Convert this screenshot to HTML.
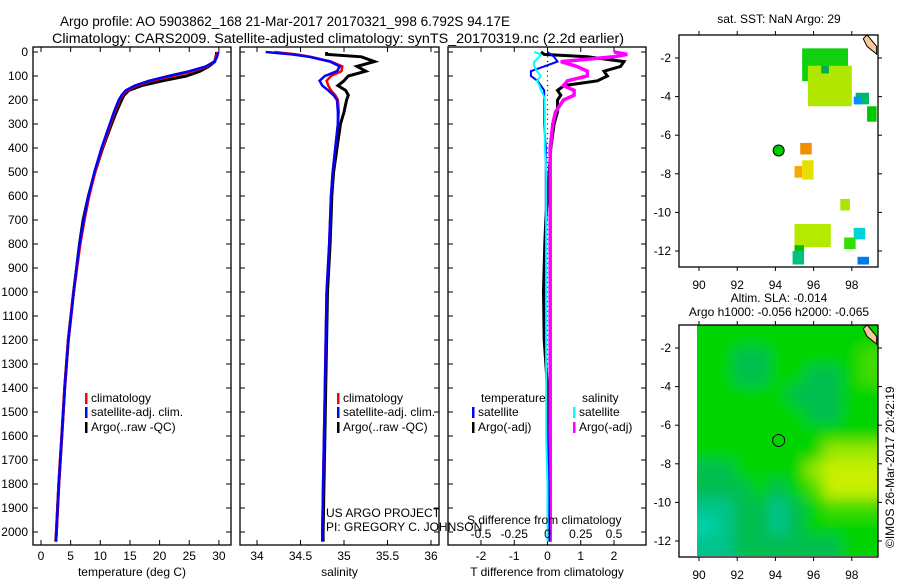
<!DOCTYPE html>
<html><head><meta charset="utf-8"><style>
html,body{margin:0;padding:0;background:#fff;}
svg{display:block;font-family:"Liberation Sans",sans-serif;}
text{font-size:12px;fill:#000;}
</style></head><body>
<svg id="chart" width="900" height="580" viewBox="0 0 900 580" xmlns="http://www.w3.org/2000/svg">
<defs>
<filter id="blur" x="-5%" y="-5%" width="110%" height="110%"><feGaussianBlur stdDeviation="7"/></filter>
<clipPath id="slaclip"><rect x="697" y="325" width="181" height="231"/></clipPath>
</defs>
<text x="60" y="26" textLength="450" lengthAdjust="spacingAndGlyphs" style="font-size:14px">Argo profile: AO 5903862_168 21-Mar-2017 20170321_998 6.792S 94.17E</text>
<text x="52" y="43" textLength="572" lengthAdjust="spacingAndGlyphs" style="font-size:14px">Climatology: CARS2009. Satellite-adjusted climatology: synTS_20170319.nc (2.2d earlier)</text>
<g id="sla" clip-path="url(#slaclip)"><g id="slablur" filter="url(#blur)"></g></g>
<g id="g"></g>
</svg>
<script>
// ---- data ----
const depthTicks=[0,100,200,300,400,500,600,700,800,900,1000,1100,1200,1300,1400,1500,1600,1700,1800,1900,2000];
const tempTicks=[0,5,10,15,20,25,30];
const salTicks=[34,34.5,35,35.5,36];
const tdTicks=[-2,-1,0,1,2];
const sdTicks=[-0.5,-0.25,0,0.25,0.5];
const profDepth=[0,10,20,40,60,80,100,120,140,160,180,200,250,300,400,500,600,700,800,1000,1200,1400,1600,1800,2000,2040];
const tempClim=[29.8,29.7,29.6,29.2,28.0,25.5,22.0,18.5,16.0,14.4,13.7,13.2,12.4,11.7,10.3,9.1,8.1,7.3,6.6,5.5,4.6,4.0,3.5,3.0,2.6,2.5];
const tempSat=[29.9,29.8,29.7,29.3,27.8,25.0,21.5,18.2,15.8,14.3,13.6,13.1,12.3,11.6,10.2,9.0,8.0,7.2,6.5,5.5,4.6,4.0,3.5,3.0,2.6,2.5];
const tempArgo=[29.6,29.6,29.5,29.3,28.3,26.8,24.5,20.5,17.0,14.8,14.0,13.6,12.7,11.9,10.4,9.1,8.0,7.1,6.5,5.5,4.6,4.0,3.5,3.0,2.6,2.5];
const salClim=[34.2,34.45,34.62,34.85,34.98,34.97,34.85,34.8,34.82,34.85,34.9,34.93,34.94,34.93,34.9,34.87,34.85,34.84,34.83,34.8,34.79,34.78,34.77,34.76,34.75,34.75];
const salSat=[34.1,34.4,34.6,34.84,34.95,34.92,34.78,34.72,34.75,34.82,34.88,34.92,34.93,34.93,34.9,34.87,34.85,34.84,34.83,34.8,34.79,34.78,34.77,34.76,34.75,34.75];
const salArgo=[34.8,34.8,35.2,35.35,35.15,35.25,35.05,35.0,34.93,35.02,35.05,35.03,35.0,34.96,34.92,34.88,34.86,34.85,34.84,34.81,34.8,34.79,34.78,34.77,34.76,34.76];
const tdSat=[0.0,0.1,0.2,0.3,-0.1,-0.5,-0.5,-0.3,-0.2,-0.1,-0.1,-0.1,-0.1,-0.1,-0.05,-0.05,-0.05,-0.05,-0.05,-0.05,-0.05,-0.02,0,0.03,0.05,0.05];
const tdArgo=[-0.2,-0.1,1.2,2.3,2.2,1.7,1.8,1.5,0.5,0.3,0.4,0.3,0.3,0.2,0.1,0.05,0.0,-0.05,-0.08,-0.12,-0.1,0,0.08,0.08,0.08,0.08];
const sdSat=[-0.1,-0.05,-0.06,-0.1,-0.1,-0.08,-0.05,-0.08,-0.06,-0.05,-0.03,-0.02,-0.02,-0.02,-0.02,-0.01,-0.01,-0.01,-0.01,-0.01,-0.01,-0.01,-0.01,0,0,0];
const sdArgo=[0.5,0.6,0.5,0.1,0.22,0.3,0.3,0.15,0.12,0.2,0.2,0.12,0.06,0.04,0.02,0.02,0.02,0.02,0.02,0.02,0.02,0.02,0.02,0.02,0.02,0.02];
const lonTicks=[90,92,94,96,98];
const latTicks=[-2,-4,-6,-8,-10,-12];
const sstPatches=[[95.4,-1.5,97.8,-3.2,"#10d010"],[95.7,-2.4,98.0,-4.5,"#b0e600"],[96.4,-2.4,96.8,-2.8,"#00b050"],[98.2,-3.8,98.9,-4.4,"#00b868"],[98.1,-4.0,98.5,-4.4,"#0090ff"],[98.8,-4.5,99.3,-5.3,"#00c800"],[95.3,-6.4,95.9,-7.0,"#f09000"],[95.0,-7.6,95.4,-8.2,"#f8a800"],[95.4,-7.3,96.0,-8.3,"#e6e000"],[97.4,-9.3,97.9,-9.9,"#a8e600"],[95.0,-10.6,96.9,-11.8,"#b4ea00"],[98.1,-10.8,98.7,-11.4,"#00d4d4"],[97.6,-11.3,98.2,-11.9,"#30e000"],[95.0,-11.7,95.5,-12.1,"#00c000"],[94.9,-12.0,95.5,-12.7,"#00c088"],[98.3,-12.3,98.9,-12.7,"#0078f0"]];
const slaGrid=[[5,5,5,5,5,5,5,5,5,5],[5,5,4,4,5,5,5,5,5,6],[5,5,4,4,5,5,4,4,5,6],[5,5,5,5,5,4,4,4,5,5],[5,5,5,5,5,5,4,4,5,5],[5,5,5,5,5,5,5,5,5,5],[5,5,5,5,5,5,5,7,7,7],[4,4,5,5,5,5,7,8,8,8],[4,4,4,5,4,5,6,8,8,8],[3,3,4,4,3,4,5,6,6,6],[2,3,4,4,3,4,5,5,5,5],[3,3,4,4,4,4,4,4,5,5]];
const slaColors=["#00d2aa","#00d2aa","#00d2aa","#00c48a","#00be50","#00d400","#40dc00","#96e800","#c8f000"];
const argoLon=94.17, argoLat=-6.79;
// ---- helpers ----
const NS="http://www.w3.org/2000/svg", G=document.getElementById('g'), SB=document.getElementById('slablur');
function el(t,a,txt,par){const e=document.createElementNS(NS,t);for(const k in a)e.setAttribute(k,a[k]);if(txt!==undefined&&txt!==null)e.textContent=txt;(par||G).appendChild(e);return e;}
const top0=52, bot=545; const yD=d=>top0+d*0.24;
function panel(name,x0,x1,xs,ticks,fmt,title,series){
  const r=el('rect',{x:x0,y:47,width:x1-x0,height:bot-47,fill:'none',stroke:'#000','stroke-width':1.3});
  
  ticks.forEach(v=>{const x=xs(v);
    const t=el('line',{x1:x,x2:x,y1:bot,y2:bot-5,stroke:'#000'});
    el('line',{x1:x,x2:x,y1:47,y2:52,stroke:'#000'});
    const l=el('text',{x:x,y:560,'text-anchor':'middle'},fmt(v));});
  depthTicks.forEach(d=>{el('line',{x1:x0,x2:x0+5,y1:yD(d),y2:yD(d),stroke:'#000'});el('line',{x1:x1,x2:x1-5,y1:yD(d),y2:yD(d),stroke:'#000'});});
  const tt=el('text',{x:(x0+x1)/2,y:576,'text-anchor':'middle'},title);
  series.forEach(s=>{const p=el('polyline',{points:profDepth.map((d,i)=>xs(s.v[i]).toFixed(1)+','+yD(d).toFixed(1)).join(' '),fill:'none',stroke:s.c,'stroke-width':s.w});
    });
}
depthTicks.forEach(d=>{const t=el('text',{x:28,y:yD(d)+4,'text-anchor':'end'},d);});
const xT=v=>41+v*5.93;
panel('temperature-panel',33,231,xT,tempTicks,v=>v,'temperature (deg C)',[{v:tempArgo,c:'#000',w:3,n:'temp-argo-line'},{v:tempClim,c:'#f00',w:3,n:'temp-clim-line'},{v:tempSat,c:'#00f',w:2.5,n:'temp-sat-line'}]);
const xS=v=>257+(v-34)*87;
panel('salinity-panel',240,439,xS,salTicks,v=>v,'salinity',[{v:salArgo,c:'#000',w:3,n:'sal-argo-line'},{v:salClim,c:'#f00',w:2.5,n:'sal-clim-line'},{v:salSat,c:'#00f',w:2.5,n:'sal-sat-line'}]);
const xTD=v=>547.5+v*33.25, xSD=v=>547.5+v*133;
panel('difference-panel',448,646,xTD,tdTicks,v=>v,'T difference from climatology',[]);
for(let d=0;d<=2000;d+=20){el('circle',{cx:547.5,cy:yD(d),r:0.6,fill:'#000'});}
[[tdArgo,xTD,'#000',3,'tdiff-argo-line'],[sdArgo,xSD,'#f0f',3.5,'sdiff-argo-line'],[tdSat,xTD,'#00f',2,'tdiff-sat-line'],[sdSat,xSD,'#0ff',2,'sdiff-sat-line']].forEach(a=>{
  const p=el('polyline',{points:profDepth.map((d,i)=>a[1](a[0][i]).toFixed(1)+','+yD(d).toFixed(1)).join(' '),fill:'none',stroke:a[2],'stroke-width':a[3]});
  });
sdTicks.forEach(v=>{const l=el('text',{x:xSD(v),y:538,'text-anchor':'middle'},v);});
let st=el('text',{x:467,y:524},'S difference from climatology');
// legends
function leg(x,y,c,t,name){el('rect',{x:x,y:y-9,width:2.5,height:11,fill:c});const e=el('text',{x:x+6,y:y},t);}
[[85,'temp'],[337,'sal']].forEach(([x,n])=>{leg(x,402,'#f00','climatology',n+'-legend-climatology');leg(x,416,'#00f','satellite-adj. clim.',n+'-legend-satellite');leg(x,431,'#000','Argo(..raw -QC)',n+'-legend-argo');});
let lt=el('text',{x:481,y:402},'temperature');
let ls=el('text',{x:582,y:402},'salinity');
leg(472,416,'#00f','satellite','legend-t-satellite');leg(472,431,'#000','Argo(-adj)','legend-t-argo');
leg(573,416,'#0ff','satellite','legend-s-satellite');leg(573,431,'#f0f','Argo(-adj)','legend-s-argo');
let c1=el('text',{x:326,y:517},'US ARGO PROJECT');
let c2=el('text',{x:326,y:531},'PI: GREGORY C. JOHNSON');
// maps
function map(name,yTop){
  const lx=v=>699+(v-90)*19.1, ly=v=>(yTop+23)+(-2-v)*19.3;
  return {lx,ly,frame(){
    const r=el('rect',{x:679,y:yTop,width:199,height:232,fill:'none',stroke:'#000','stroke-width':1.3});
    lonTicks.forEach(v=>{el('line',{x1:lx(v),x2:lx(v),y1:yTop+232,y2:yTop+236,stroke:'#000'});el('line',{x1:lx(v),x2:lx(v),y1:yTop,y2:yTop-4,stroke:'#000'});
      const t=el('text',{x:lx(v),y:yTop+254,'text-anchor':'middle'},v);});
    latTicks.forEach(v=>{el('line',{x1:679,x2:675,y1:ly(v),y2:ly(v),stroke:'#000'});el('line',{x1:878,x2:882,y1:ly(v),y2:ly(v),stroke:'#000'});
      const t=el('text',{x:671,y:ly(v)+4,'text-anchor':'end'},v);});
    const ip=el('polygon',{points:[[98.8,-0.8],[99.3,-1.4],[99.3,-1.8],[98.8,-1.4],[98.6,-1.0]].map(p=>lx(p[0])+','+ly(p[1])).join(' '),fill:'#f8c898',stroke:'#000','stroke-width':1});
    
  }};
}
const m1=map('sst-map',35);
sstPatches.forEach(p=>{const r=el('rect',{x:m1.lx(p[0]),y:m1.ly(p[1]),width:m1.lx(p[2])-m1.lx(p[0]),height:m1.ly(p[3])-m1.ly(p[1]),fill:p[4]});});
m1.frame();
let d1=el('circle',{cx:m1.lx(argoLon),cy:m1.ly(argoLat),r:5.5,fill:'#00c800',stroke:'#000','stroke-width':1});
let t1=el('text',{x:779,y:23,'text-anchor':'middle'},'sat. SST: NaN Argo: 29');
const m2=map('sla-map',325);
const lon0=89.95,lon1=99.3,lat0=-1.0,lat1=-12.7,nr=slaGrid.length,nc=slaGrid[0].length;
slaGrid.forEach((row,i)=>row.forEach((v,j)=>{let a=lon0+(lon1-lon0)*j/nc,b=lon0+(lon1-lon0)*(j+1)/nc,c=lat0+(lat1-lat0)*i/nr,d=lat0+(lat1-lat0)*(i+1)/nr;
  let x=m2.lx(a),w=m2.lx(b)-x,y=m2.ly(c),h=m2.ly(d)-y;
  if(j===0){x-=20;w+=20;} if(j===nc-1){w+=20;} if(i===0){y-=20;h+=20;} if(i===nr-1){h+=20;}
  const r=el('rect',{x:x,y:y,width:w+0.5,height:h+0.5,fill:slaColors[v]},null,SB);}));
m2.frame();
let d2=el('circle',{cx:m2.lx(argoLon),cy:m2.ly(argoLat),r:6,fill:'none',stroke:'#000','stroke-width':1});
let t2=el('text',{x:779,y:302,'text-anchor':'middle'},'Altim. SLA: -0.014');
let t3=el('text',{x:779,y:316,'text-anchor':'middle'},'Argo h1000: -0.056 h2000: -0.065');
let ts=el('text',{x:894,y:548,transform:'rotate(-90 894 548)'},'©IMOS 26-Mar-2017 20:42:19');
</script>
</body></html>
